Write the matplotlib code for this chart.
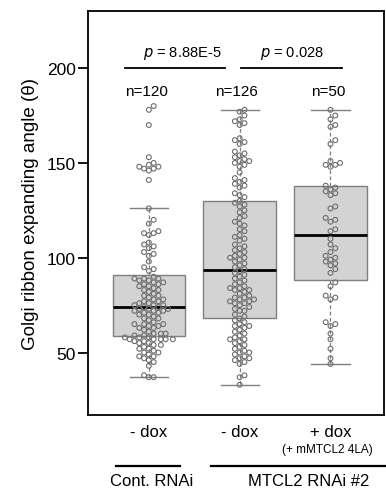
import numpy as np
import matplotlib
matplotlib.use("Agg")
import matplotlib.pyplot as plt
import matplotlib.transforms as mtransforms

plt.rcParams['font.family'] = ['Liberation Sans', 'DejaVu Sans']

# values (degrees)
cont_dox = [37, 37, 38, 43, 45, 46, 47, 48, 48, 49, 50, 50, 51, 52, 52, 53, 54, 54, 55, 55,
            56, 56, 57, 57, 57, 57, 57, 58, 58, 58,
            59, 59, 60, 60, 60, 61, 62, 63, 63, 64, 64, 65, 65, 65, 66, 67, 68, 68, 69, 70,
            70, 71, 71, 72, 72, 72, 73, 73, 73, 74,
            74, 75, 75, 75, 76, 76, 77, 77, 78, 78, 79, 80, 80, 81, 82, 83, 83, 84, 85, 85,
            86, 86, 87, 87, 88, 88, 89, 89, 89, 90,
            93, 94, 95, 98, 101, 102, 103, 105, 106, 107, 108, 112, 113, 113, 114, 118, 120, 126,
            141, 146, 147, 147, 148, 148, 149, 150, 153, 170, 178, 180]
rnai_dox = [33, 37, 38, 44, 45, 46, 47, 47, 48, 49, 50, 50, 51, 52, 53, 54, 55, 56, 57, 57,
            58, 59, 60, 61, 62, 63, 64, 64, 65, 66, 67,
            68, 69, 70, 72, 72, 73, 74, 75, 76, 76, 77, 77, 78, 78, 79, 79, 80, 81, 82, 83,
            83, 84, 84, 85, 86, 87, 88, 89, 90, 91, 92, 93,
            94, 95, 96, 97, 98, 99, 100, 100, 101, 102, 103, 104, 105, 106, 107, 109, 110, 111,
            112, 114, 115, 117, 118, 119, 121, 122, 124, 125, 127, 128, 129, 130,
            132, 133, 134, 137, 138, 139, 140, 141, 142, 145, 148, 149, 150, 151, 151, 152, 153,
            154, 155, 156, 160, 161, 162, 163, 170, 171, 172, 173, 175, 177, 178]
rnai_plus = [44, 47, 52, 57, 60, 64, 65, 66, 78, 79, 80, 85, 87,
             92, 94, 96, 97, 98, 99, 100, 101, 103, 105, 107, 110,
             114, 115, 119, 120, 121, 126, 127, 133, 134, 135, 136, 137, 138,
             148, 149, 149, 150, 151, 160, 162, 169, 170, 173, 175, 178]

groups = [cont_dox, rnai_dox, rnai_plus]
n_labels = ["n=120", "n=126", "n=50"]
cond_labels = ["- dox", "- dox", "+ dox"]
pvals = ["8.88E-5", "0.028"]

fig = plt.figure(figsize=(3.86, 4.89), dpi=100)
ax = fig.add_axes([0.228, 0.149, 0.767, 0.826])
ax.set_xlim(0.33, 3.59)
ax.set_ylim(17, 230)

pos = [1, 2, 3]
ax.boxplot(groups, positions=pos, widths=0.8, patch_artist=True, showfliers=False,
           capwidths=0.42,
           boxprops=dict(facecolor='#d3d3d3', edgecolor='#7f7f7f', linewidth=1.0),
           whiskerprops=dict(color='#7f7f7f', linestyle=(0, (3, 2)), linewidth=0.9),
           capprops=dict(color='#7f7f7f', linewidth=1.0),
           medianprops=dict(color='black', linewidth=2.0))

# beeswarm layout in pixel space
fig.canvas.draw()
d = 4.8  # marker spacing in px
for p, vals in zip(pos, groups):
    vals = sorted(vals)
    placed = []
    xs = []
    for v in vals:
        px, py = ax.transData.transform((p, v))
        cands = [0.0]
        for i in range(1, 30):
            cands += [i * d * 0.5, -i * d * 0.5]
        for off in cands:
            ok = all((px + off - qx) ** 2 + (py - qy) ** 2 >= d * d for qx, qy in placed)
            if ok:
                break
        placed.append((px + off, py))
        xs.append(ax.transData.inverted().transform((px + off, py))[0])
    ax.scatter(xs, vals, s=12, facecolors='none', edgecolors='#6e6e6e', linewidths=0.8, zorder=3)

# significance bars
ax.plot([0.74, 1.84], [200, 200], color='black', lw=1.3)
ax.plot([2.02, 3.13], [200, 200], color='black', lw=1.3)
ax.text(1.37, 204, r"$p$ = " + pvals[0], ha='center', va='bottom', fontsize=10.5)
ax.text(2.58, 204, r"$p$ = " + pvals[1], ha='center', va='bottom', fontsize=10.5)
for p, t in zip(pos, n_labels):
    ax.text(p - 0.03, 188, t, ha='center', va='center', fontsize=11)

ax.set_xticks([])
ax.set_yticks([50, 100, 150, 200])
ax.tick_params(axis='y', length=7, width=1.3, labelsize=12.5, pad=2)
for s in ax.spines.values():
    s.set_linewidth(1.3)
ax.set_ylabel("Golgi ribbon expanding angle (\u03b8)", fontsize=13.5, labelpad=5)

trans = mtransforms.blended_transform_factory(ax.transData, fig.transFigure)
for p, t in zip(pos, cond_labels):
    ax.text(p, 1 - 433 / 489, t, transform=trans, ha='center', va='center', fontsize=12)
ax.text(2.97, 1 - 450 / 489, "(+ mMTCL2 4LA)", transform=trans, ha='center', va='center', fontsize=8.5)
ax.plot([0.64, 1.34], [1 - 467 / 489] * 2, transform=trans, color='black', lw=1.6, clip_on=False)
ax.plot([1.68, 3.65], [1 - 467 / 489] * 2, transform=trans, color='black', lw=1.6, clip_on=False)
ax.text(1.03, 1 - 482 / 489, "Cont. RNAi", transform=trans, ha='center', va='center', fontsize=12)
ax.text(2.76, 1 - 482 / 489, "MTCL2 RNAi #2", transform=trans, ha='center', va='center', fontsize=12)

fig.savefig("out.png", dpi=100)
